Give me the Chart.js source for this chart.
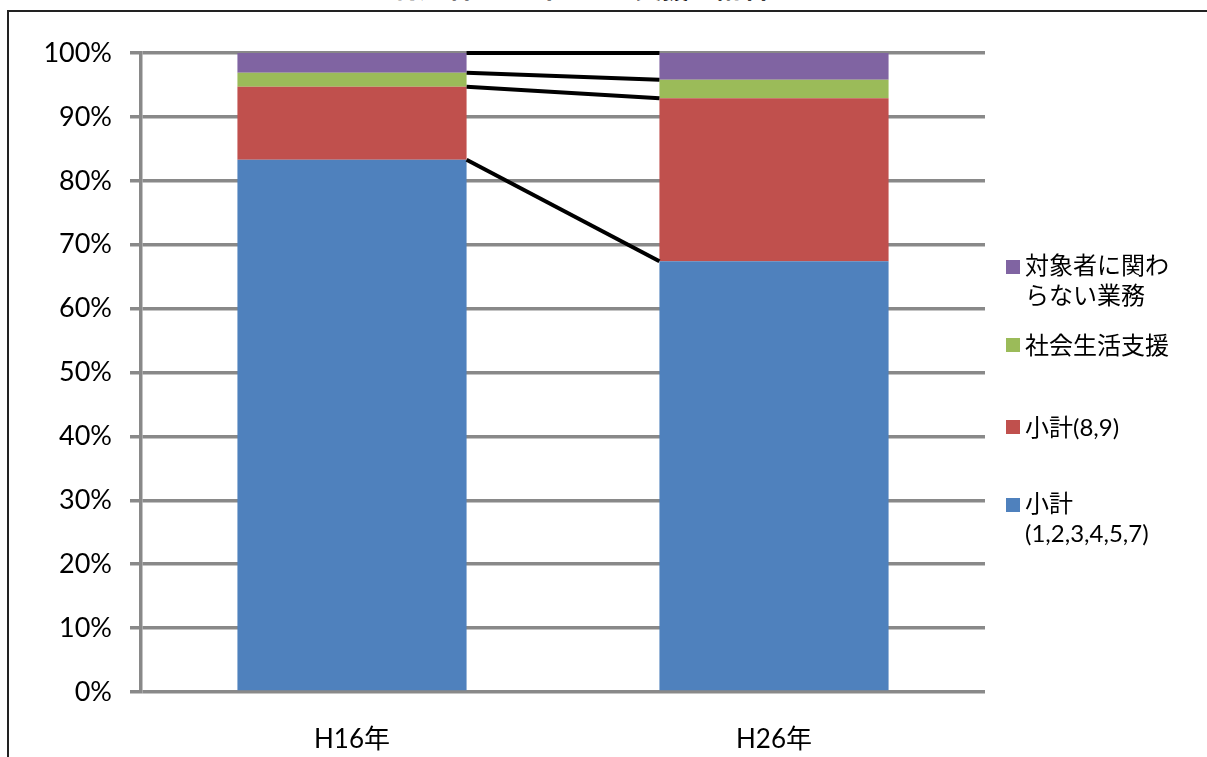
<!DOCTYPE html>
<html>
<head>
<meta charset="utf-8">
<script src="https://cdn.jsdelivr.net/npm/chart.js@4"></script>
<style>
  body { margin: 0; background: #fff; overflow: hidden; }
  #wrap { position: relative; width: 1207px; height: 757px; overflow: hidden; }
  #frame { position: absolute; left: 7px; top: 10px; width: 1400px; height: 900px; border: 2px solid #222; }
  #title { position: absolute; left: 392px; top: -27px; font: bold 27px "Noto Sans CJK JP", sans-serif; line-height: 27px; white-space: nowrap; }
  #chartBox { position: absolute; left: 0; top: 0; width: 1207px; height: 757px; }
  #legend { position: absolute; left: 1006px; top: 0; font: 24px Lato, "Noto Sans CJK JP", sans-serif; color: #000; }
  .item { position: absolute; left: 0; white-space: nowrap; }
  .box { position: absolute; left: 0; width: 14px; height: 14px; }
  .txt { position: absolute; left: 19px; line-height: 30px; }
</style>
</head>
<body>
<div id="wrap">
  <div id="frame"></div>
  <div id="title">利用者一人当たりの支援量割合</div>
  <div id="chartBox"><canvas id="chart"></canvas></div>
  <div id="legend"></div>
</div>
<script>
const years = ["H16年", "H26年"];
const seriesNames = ["小計\n(1,2,3,4,5,7)", "小計(8,9)", "社会生活支援", "対象者に関わ\nらない業務"];
const colors = ["#4F81BD", "#C0504D", "#9BBB59", "#8064A2"];
const basic = [83.3, 67.4];
const sub89 = [11.4, 25.5];
const social = [2.2, 2.9];
const other = [3.1, 4.2];
const yTicks = [0, 10, 20, 30, 40, 50, 60, 70, 80, 90, 100];

const values = [basic, sub89, social, other];

// Excel-style series lines between stacked segments
const seriesLines = {
  id: "seriesLines",
  afterDatasetsDraw(chart) {
    const ctx = chart.ctx;
    ctx.save();
    ctx.strokeStyle = "#000";
    ctx.lineWidth = 4;
    chart.data.datasets.forEach((ds, i) => {
      const bars = chart.getDatasetMeta(i).data;
      const a = bars[0].getProps(["x", "y", "width"], true);
      const b = bars[1].getProps(["x", "y", "width"], true);
      ctx.beginPath();
      ctx.moveTo(a.x + a.width / 2, a.y);
      ctx.lineTo(b.x - b.width / 2, b.y);
      ctx.stroke();
    });
    ctx.restore();
  }
};

new Chart(document.getElementById("chart"), {
  type: "bar",
  data: {
    labels: years,
    datasets: values.map((v, i) => ({
      label: seriesNames[i],
      data: v,
      backgroundColor: colors[i],
      borderWidth: 0,
      barPercentage: 0.543,
      categoryPercentage: 1
    }))
  },
  options: {
    responsive: true,
    maintainAspectRatio: false,
    animation: false,
    layout: { padding: { top: 53, right: 222, left: 0, bottom: 0 } },
    plugins: { legend: { display: false }, title: { display: false }, tooltip: { enabled: false } },
    scales: {
      x: {
        stacked: true,
        grid: { display: false },
        border: { display: false },
        ticks: { color: "#000", padding: 24, font: { family: "Lato, 'Noto Sans CJK JP'", size: 26 } },
        afterFit(scale) { scale.height = 65; }
      },
      y: {
        stacked: true,
        min: 0,
        max: 100,
        afterBuildTicks(scale) { scale.ticks = yTicks.map(v => ({ value: v })); },
        grid: { color: "#898989", lineWidth: 3.5, tickLength: 11 },
        border: { display: true, color: "#898989", width: 3.5 },
        ticks: {
          color: "#000",
          padding: 18,
          font: { family: "Lato", size: 27 },
          callback: v => v + "%"
        },
        afterFit(scale) { scale.width = 141; }
      }
    }
  },
  plugins: [seriesLines]
});

// legend, reversed like Excel
const legendTops = [258, 338, 420, 496];
const legend = document.getElementById("legend");
for (let i = seriesNames.length - 1; i >= 0; i--) {
  const item = document.createElement("div");
  item.className = "item";
  item.style.top = legendTops[seriesNames.length - 1 - i] + "px";
  const lines = seriesNames[i].split("\n");
  item.innerHTML = '<div class="box" style="background:' + colors[i] + ';top:' + (lines.length > 1 ? 2 : 0) + 'px"></div>' +
    '<div class="txt" style="top:-8px">' + lines.join("<br>") + "</div>";
  legend.appendChild(item);
}
</script>
</body>
</html>
